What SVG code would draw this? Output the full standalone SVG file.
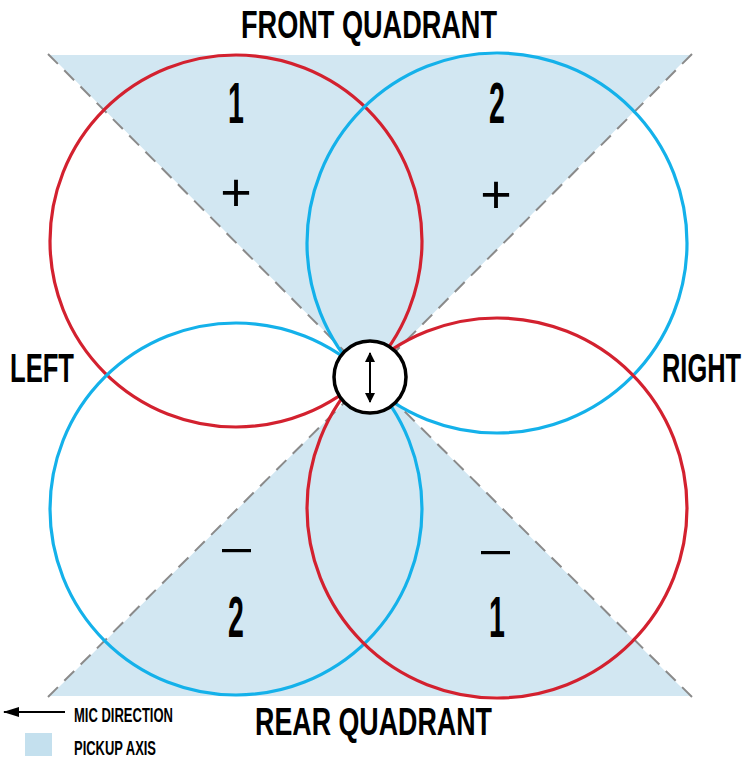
<svg xmlns="http://www.w3.org/2000/svg" width="749" height="760" viewBox="0 0 749 760">
  <defs>
    <style>
      .shade { fill: #d2e7f2; }
      .dash { stroke: #8a8a8a; stroke-width: 2; stroke-dasharray: 14 9; fill: none; }
      .red { fill: none; stroke: #d3212f; stroke-width: 3.2; }
      .blue { fill: none; stroke: #14b1ea; stroke-width: 3.2; }
      .lbl { font-family: "Liberation Sans", Arial, sans-serif; font-weight: bold; fill: #000; }
      .sign { font-family: "Liberation Sans", Arial, sans-serif; font-weight: normal; fill: #000; }
    </style>
    <marker id="ah" viewBox="0 0 10 10" refX="9" refY="5" markerWidth="10" markerHeight="10" markerUnits="userSpaceOnUse" orient="auto">
      <path d="M0,0 L10,5 L0,10 Z" fill="#000"/>
    </marker>
    <marker id="ahL" viewBox="0 0 16 10" refX="15" refY="5" markerWidth="16" markerHeight="10" markerUnits="userSpaceOnUse" orient="auto">
      <path d="M0,0 L16,5 L0,10 Z" fill="#000"/>
    </marker>
  </defs>

  <rect width="749" height="760" fill="#fff"/>

  <g id="pickup-axis">
    <polygon class="shade" points="50,55 690,55 370,377"/>
    <polygon class="shade" points="50,696 690,696 370,377"/>
    <line class="dash" x1="48" y1="54" x2="370" y2="377"/>
    <line class="dash" x1="692" y1="54" x2="370" y2="377"/>
    <line class="dash" x1="48" y1="697" x2="370" y2="377"/>
    <line class="dash" x1="692" y1="697" x2="370" y2="377"/>
  </g>

  <g id="lobes">
    <circle id="lobe-front-left" class="red" cx="236" cy="241" r="186"/>
    <circle id="lobe-front-right" class="blue" cx="497" cy="243" r="190"/>
    <circle id="lobe-rear-left" class="blue" cx="236" cy="509" r="186"/>
    <circle id="lobe-rear-right" class="red" cx="497" cy="508" r="190"/>
  </g>

  <g id="mic">
    <circle cx="370" cy="377" r="36" fill="#fff" stroke="#000" stroke-width="3.5"/>
    <line x1="370" y1="377" x2="370" y2="353" stroke="#000" stroke-width="2" marker-end="url(#ah)"/>
    <line x1="370" y1="377" x2="370" y2="402" stroke="#000" stroke-width="2" marker-end="url(#ah)"/>
  </g>

  <g id="labels">
    <text class="lbl" x="241" y="38" font-size="39" textLength="256" lengthAdjust="spacingAndGlyphs">FRONT QUADRANT</text>
    <text class="lbl" x="255" y="735" font-size="39" textLength="237" lengthAdjust="spacingAndGlyphs">REAR QUADRANT</text>
    <text class="lbl" x="10" y="382" font-size="41" textLength="64" lengthAdjust="spacingAndGlyphs">LEFT</text>
    <text class="lbl" transform="translate(662,382) scale(0.62,1)" font-size="41">RIGHT</text>
  </g>

  <g id="lobe-marks">
    <text class="lbl" transform="translate(236,123) scale(0.5,1)" text-anchor="middle" font-size="57">1</text>
    <text class="lbl" transform="translate(497,123) scale(0.5,1)" text-anchor="middle" font-size="57">2</text>
    <text class="lbl" transform="translate(236,637) scale(0.5,1)" text-anchor="middle" font-size="57">2</text>
    <text class="lbl" transform="translate(497,637) scale(0.5,1)" text-anchor="middle" font-size="57">1</text>
    <text class="sign" x="236" y="211" text-anchor="middle" font-size="54">+</text>
    <text class="sign" x="496" y="213" text-anchor="middle" font-size="54">+</text>
    <rect x="222" y="549" width="29" height="3.2" fill="#000"/>
    <rect x="481" y="551" width="29" height="3.2" fill="#000"/>
  </g>

  <g id="legend">
    <line x1="65" y1="712" x2="4" y2="712" stroke="#000" stroke-width="2" marker-end="url(#ahL)"/>
    <text class="lbl" x="74" y="722" font-size="21" textLength="99" lengthAdjust="spacingAndGlyphs">MIC DIRECTION</text>
    <rect x="25" y="733" width="27" height="23" fill="#c4e0ee"/>
    <text class="lbl" x="74" y="755" font-size="21" textLength="82" lengthAdjust="spacingAndGlyphs">PICKUP AXIS</text>
  </g>
</svg>
